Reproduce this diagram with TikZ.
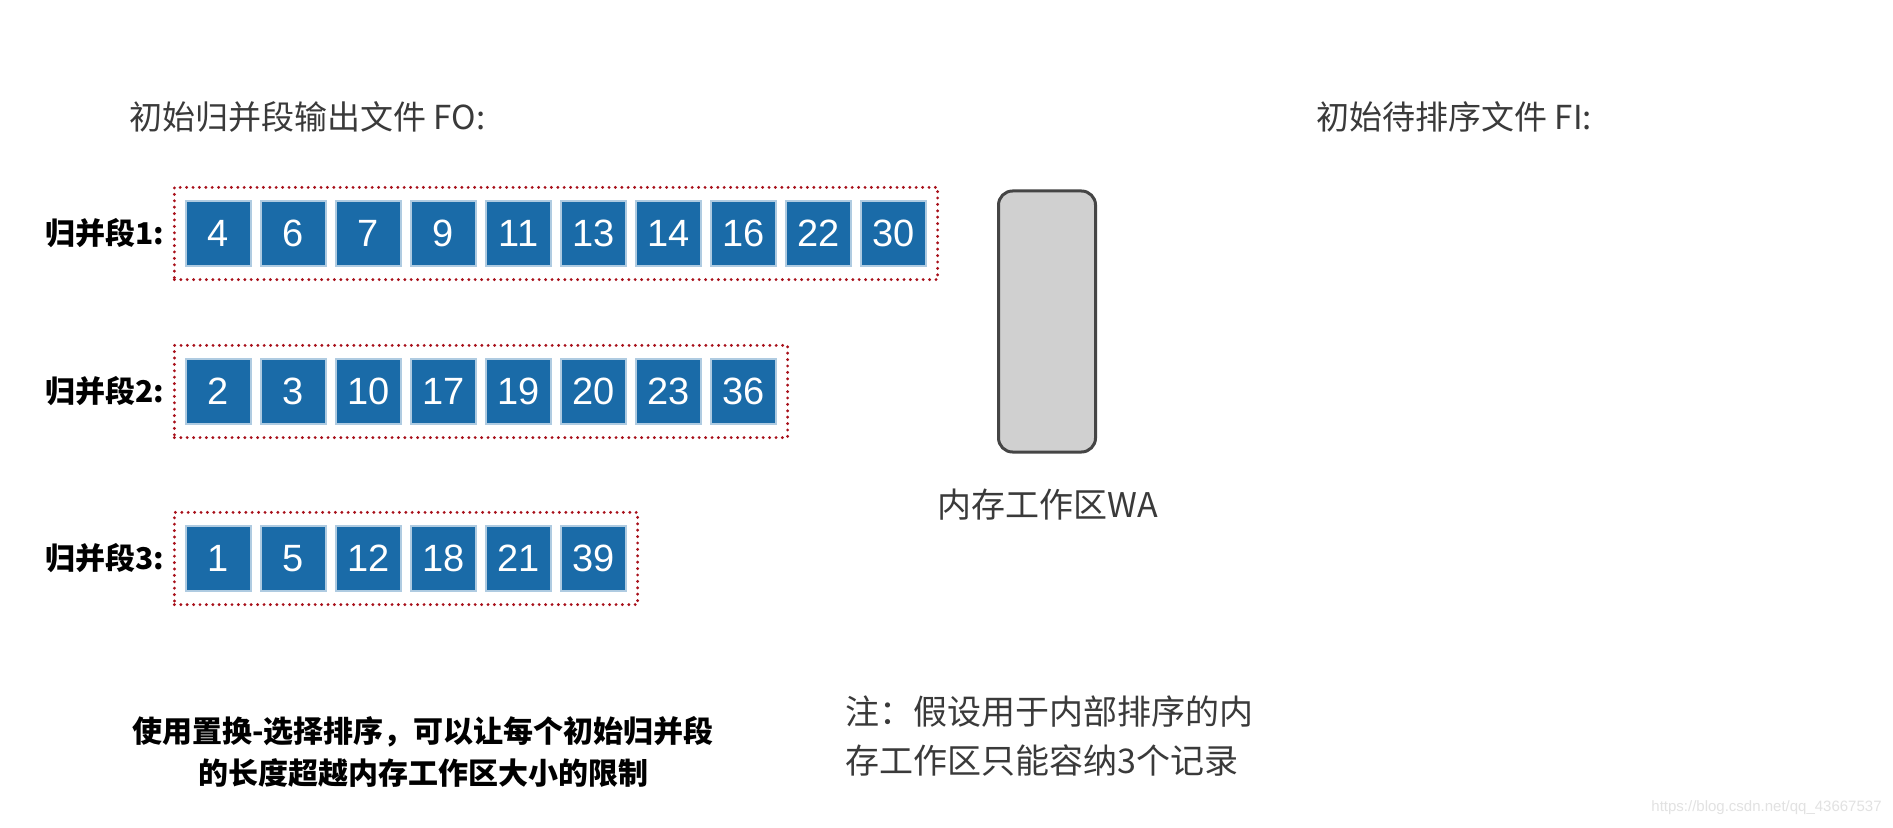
\documentclass[tikz,border=0pt]{standalone}
\usepackage{fontspec}
\setmainfont{Liberation Sans}
\newfontfamily\cjk{Noto Sans CJK SC}
\newfontfamily\numfont{Liberation Sans}
\usetikzlibrary{fit,positioning}
\definecolor{cellblue}{HTML}{1A6BA8}
\definecolor{dotred}{HTML}{A8101A}
\definecolor{txtgray}{HTML}{3A3A3A}
\definecolor{wagray}{HTML}{D0D0D0}
\definecolor{waborder}{HTML}{454545}
\definecolor{wmgray}{HTML}{E2E2E2}
\tikzset{
  cell/.style={draw=cellblue!35!white, line width=0.6pt, fill=cellblue, text=white,
    minimum width=32.5pt, minimum height=32.5pt, inner sep=0pt,
    font=\numfont\fontsize{19}{19}\selectfont},
  runbox/.style={draw=dotred, line width=1.6pt, line cap=round, dash pattern=on 0pt off 3.2pt,
    inner xsep=5.5pt, inner ysep=6.5pt},
  runlabel/.style={anchor=east, font=\cjk\bfseries\fontsize{15}{15}\selectfont, text=black, inner sep=0pt},
  title/.style={anchor=west, font=\cjk\fontsize{16.5}{16.5}\selectfont, text=txtgray, inner sep=0pt},
  wabox/.style={draw=waborder, fill=wagray, line width=1.5pt, rounded corners=7pt,
    minimum width=48.5pt, minimum height=130.5pt, inner sep=0pt},
}
\begin{document}
\begin{tikzpicture}[x=0.5pt, y=-0.5pt]
\fill[white] (0,0) rectangle (1893,828);
\useasboundingbox (0,0) rectangle (1893,828);

% titles
\node[title] (fo) at (129,117) {初始归并段输出文件 FO:};
\node[title] (fi) at (1316,117) {初始待排序文件 FI:};

% run 1
\foreach \v [count=\i from 0] in {4,6,7,9,11,13,14,16,22,30}
  \node[cell] (a\i) at ({218.5+75*\i},233.5) {\v};
\node[runbox, fit=(a0)(a9)] (run1) {};
\node[runlabel] (l1) at ([xshift=-4pt]run1.west) {归并段1:};

% run 2
\foreach \v [count=\i from 0] in {2,3,10,17,19,20,23,36}
  \node[cell] (b\i) at ({218.5+75*\i},391.5) {\v};
\node[runbox, fit=(b0)(b7)] (run2) {};
\node[runlabel] (l2) at ([xshift=-4pt]run2.west) {归并段2:};

% run 3
\foreach \v [count=\i from 0] in {1,5,12,18,21,39}
  \node[cell] (c\i) at ({218.5+75*\i},558.5) {\v};
\node[runbox, fit=(c0)(c5)] (run3) {};
\node[runlabel] (l3) at ([xshift=-4pt]run3.west) {归并段3:};

% working area
\node[wabox] (wa) at (1047,321.5) {};
\node[font=\cjk\fontsize{17}{17}\selectfont, text=txtgray, inner sep=0pt] (walabel) at (1048,505) {内存工作区WA};

% bottom texts
\node[align=center, font=\cjk\bfseries\fontsize{15}{21}\selectfont, text=black, inner sep=0pt] (summary) at (423,752)
  {使用置换-选择排序，可以让每个初始归并段\\的长度超越内存工作区大小的限制};
\node[align=left, anchor=west, font=\cjk\fontsize{17}{24.5}\selectfont, text=txtgray, inner sep=0pt] (note) at (845,736)
  {注：假设用于内部排序的内\\存工作区只能容纳3个记录};

% watermark
\node[anchor=east, font=\numfont\fontsize{7.5}{7.5}\selectfont, text=wmgray, inner sep=0pt] (wm) at (1882,808) {https://blog.csdn.net/qq\_43667537};
\end{tikzpicture}
\end{document}
